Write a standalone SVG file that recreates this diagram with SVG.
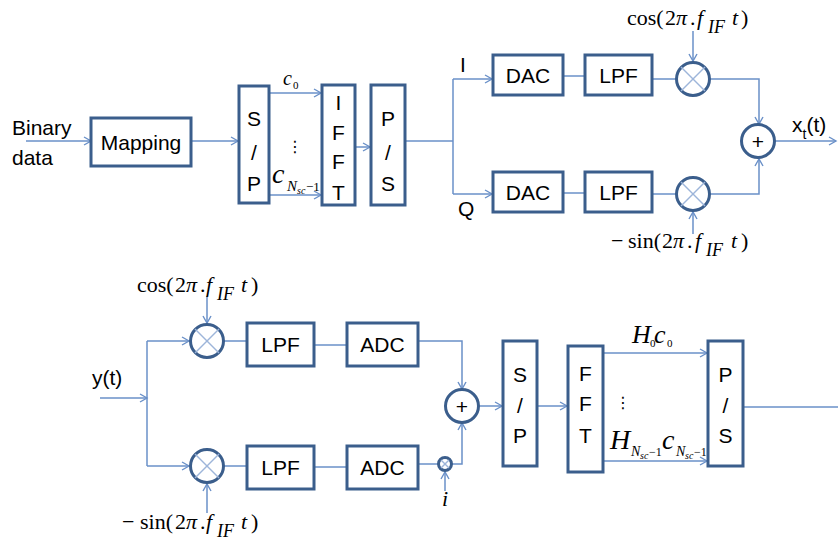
<svg xmlns="http://www.w3.org/2000/svg" width="838" height="542" viewBox="0 0 838 542">
<defs>
<style>
.box{fill:#fff;stroke:#3B5E8C;stroke-width:3}
.circ{fill:#fff;stroke:#3B5E8C;stroke-width:3}
.xl{stroke:#9DB5DA;stroke-width:1.5}
.ln{fill:none;stroke:#6A90C8;stroke-width:1.5}
.arr{fill:none;stroke:#6A90C8;stroke-width:1.5;marker-end:url(#ah)}
.t{font-family:"Liberation Sans",Arial,sans-serif;font-size:21px;fill:#000}
.m{font-family:"Liberation Serif","Times New Roman",serif;font-size:22px;fill:#000}
.i{font-style:italic}
.dots{font-family:"DejaVu Sans",sans-serif;font-size:16px;fill:#000}
</style>
<marker id="ah" markerWidth="10" markerHeight="10" refX="8" refY="5" orient="auto" markerUnits="userSpaceOnUse">
<path d="M1,1 L8,5 L1,9" fill="none" stroke="#6A90C8" stroke-width="1.4"/>
</marker>
</defs>

<g id="connectors">
<line class="arr" x1="26" y1="141" x2="91" y2="141"/>
<line class="arr" x1="191" y1="141" x2="238" y2="141"/>
<line class="arr" x1="269" y1="93" x2="321" y2="93"/>
<line class="arr" x1="269" y1="195" x2="321" y2="195"/>
<line class="arr" x1="355" y1="147" x2="370" y2="147"/>
<polyline class="ln" points="405,141 453,141"/>
<line class="ln" x1="453" y1="79" x2="453" y2="194"/>
<line class="arr" x1="453" y1="79" x2="492" y2="79"/>
<line class="arr" x1="453" y1="194" x2="492" y2="194"/>
<line class="ln" x1="563" y1="76" x2="585" y2="76"/>
<line class="ln" x1="563" y1="193" x2="585" y2="193"/>
<line class="ln" x1="652" y1="79" x2="676" y2="79"/>
<line class="ln" x1="652" y1="194" x2="676" y2="194"/>
<line class="arr" x1="693" y1="31" x2="693" y2="61"/>
<line class="arr" x1="693" y1="234" x2="693" y2="212"/>
<polyline class="arr" points="710,79 759,79 759,124"/>
<polyline class="arr" points="710,194 759,194 759,159"/>
<line class="arr" x1="775" y1="141" x2="836" y2="141"/>
<line class="arr" x1="100" y1="398" x2="147" y2="398"/>
<line class="ln" x1="147" y1="341" x2="147" y2="466"/>
<line class="arr" x1="147" y1="341" x2="189" y2="341"/>
<line class="arr" x1="147" y1="466" x2="189" y2="466"/>
<line class="arr" x1="207" y1="296" x2="207" y2="323"/>
<line class="arr" x1="207" y1="513" x2="207" y2="484"/>
<line class="ln" x1="224" y1="341" x2="247" y2="341"/>
<line class="ln" x1="224" y1="466" x2="247" y2="466"/>
<line class="ln" x1="314" y1="345" x2="347" y2="345"/>
<line class="ln" x1="314" y1="467" x2="347" y2="467"/>
<polyline class="arr" points="418,341 462,341 462,389"/>
<line class="ln" x1="418" y1="464" x2="438" y2="464"/>
<polyline class="arr" points="452,464 462,464 462,423"/>
<line class="arr" x1="445" y1="491" x2="445" y2="472"/>
<line class="arr" x1="478" y1="406" x2="502" y2="406"/>
<line class="arr" x1="537" y1="406" x2="567" y2="406"/>
<line class="arr" x1="603" y1="353" x2="707" y2="353"/>
<line class="arr" x1="603" y1="461" x2="707" y2="461"/>
<line class="ln" x1="743" y1="407" x2="838" y2="407"/>
</g>

<g id="binary-label"><text class="t" x="12" y="135">Binary</text><text class="t" x="12" y="165">data</text></g>
<g id="mapping"><rect class="box" x="91" y="118" width="100" height="48"/><text class="t" x="141" y="150" text-anchor="middle" font-size="23">Mapping</text></g>
<g id="sp1"><rect class="box" x="239" y="86" width="30" height="117"/>
<text class="t" x="254" y="126" text-anchor="middle">S</text><text class="t" x="254" y="160" text-anchor="middle">/</text><text class="t" x="254" y="191" text-anchor="middle">P</text></g>
<g id="c-labels">
<text class="m"><tspan class="i" x="283" y="85" font-size="20">c</tspan><tspan x="293" y="89" font-size="11">0</tspan></text>
<text class="dots" x="295" y="152" text-anchor="middle">⋮</text>
<text class="m"><tspan class="i" x="272" y="183" font-size="28">c</tspan><tspan class="i" x="287" y="191" font-size="15">N</tspan><tspan class="i" x="297" y="194" font-size="10">sc</tspan><tspan x="306" y="191" font-size="13">−1</tspan></text>
</g>
<g id="ifft"><rect class="box" x="322" y="85" width="33" height="120"/>
<text class="t" x="338.5" y="110" text-anchor="middle">I</text><text class="t" x="338.5" y="140" text-anchor="middle">F</text><text class="t" x="338.5" y="169" text-anchor="middle">F</text><text class="t" x="338.5" y="200" text-anchor="middle">T</text></g>
<g id="ps1"><rect class="box" x="371" y="85" width="34" height="120"/>
<text class="t" x="388" y="126" text-anchor="middle">P</text><text class="t" x="388" y="160" text-anchor="middle">/</text><text class="t" x="388" y="191" text-anchor="middle">S</text></g>
<g id="iq-labels"><text class="t" x="460" y="72">I</text><text class="t" x="458" y="216">Q</text></g>
<g id="dac-i"><rect class="box" x="493" y="55" width="70" height="40"/><text class="t" x="528" y="83" text-anchor="middle">DAC</text></g>
<g id="lpf-i"><rect class="box" x="585" y="55" width="67" height="40"/><text class="t" x="618.5" y="83" text-anchor="middle">LPF</text></g>
<g id="dac-q"><rect class="box" x="493" y="172" width="70" height="40"/><text class="t" x="528" y="200" text-anchor="middle">DAC</text></g>
<g id="lpf-q"><rect class="box" x="585" y="172" width="67" height="40"/><text class="t" x="618.5" y="200" text-anchor="middle">LPF</text></g>
<g id="mix-tx-i"><circle class="circ" cx="693" cy="79" r="16.5"/><line class="xl" x1="681" y1="67" x2="705" y2="91"/><line class="xl" x1="705" y1="67" x2="681" y2="91"/></g>
<g id="mix-tx-q"><circle class="circ" cx="693" cy="194" r="16.5"/><line class="xl" x1="681" y1="182" x2="705" y2="206"/><line class="xl" x1="705" y1="182" x2="681" y2="206"/></g>
<g id="cos-tx"><text class="m"><tspan x="627" y="25">cos(</tspan><tspan x="665" y="25">2</tspan><tspan class="i" x="676" y="25">π</tspan><tspan x="690" y="25">.</tspan><tspan class="i" x="697" y="25">f</tspan><tspan class="i" x="708" y="33" font-size="18">IF</tspan><tspan class="i" x="732" y="25">t</tspan><tspan x="741" y="25">)</tspan></text></g>
<g id="sin-tx"><text class="m"><tspan x="611" y="248">−</tspan><tspan x="628" y="248">sin(</tspan><tspan x="662" y="248">2</tspan><tspan class="i" x="673" y="248">π</tspan><tspan x="687" y="248">.</tspan><tspan class="i" x="695" y="248">f</tspan><tspan class="i" x="706" y="256" font-size="18">IF</tspan><tspan class="i" x="731" y="248">t</tspan><tspan x="741" y="248">)</tspan></text></g>
<g id="sum-tx"><circle class="circ" cx="758" cy="141" r="16.5"/><text class="t" x="758" y="149" text-anchor="middle" font-size="22">+</text></g>
<g id="xt-label"><text class="t" x="792" y="132" font-size="22">x<tspan font-size="14" dy="7">t</tspan><tspan dy="-7">(t)</tspan></text></g>

<g id="yt-label"><text class="t" x="92" y="385" font-size="22">y(t)</text></g>
<g id="cos-rx"><text class="m"><tspan x="137" y="292">cos(</tspan><tspan x="175" y="292">2</tspan><tspan class="i" x="186" y="292">π</tspan><tspan x="200" y="292">.</tspan><tspan class="i" x="206" y="292">f</tspan><tspan class="i" x="217" y="300" font-size="18">IF</tspan><tspan class="i" x="241" y="292">t</tspan><tspan x="251" y="292">)</tspan></text></g>
<g id="sin-rx"><text class="m"><tspan x="122" y="529">−</tspan><tspan x="140" y="529">sin(</tspan><tspan x="175" y="529">2</tspan><tspan class="i" x="186" y="529">π</tspan><tspan x="200" y="529">.</tspan><tspan class="i" x="206" y="529">f</tspan><tspan class="i" x="217" y="537" font-size="18">IF</tspan><tspan class="i" x="241" y="529">t</tspan><tspan x="251" y="529">)</tspan></text></g>
<g id="mix-rx-i"><circle class="circ" cx="207" cy="341" r="16.5"/><line class="xl" x1="195" y1="329" x2="219" y2="353"/><line class="xl" x1="219" y1="329" x2="195" y2="353"/></g>
<g id="mix-rx-q"><circle class="circ" cx="207" cy="466" r="16.5"/><line class="xl" x1="195" y1="454" x2="219" y2="478"/><line class="xl" x1="219" y1="454" x2="195" y2="478"/></g>
<g id="lpf-rx-i"><rect class="box" x="247" y="323" width="67" height="43"/><text class="t" x="280.5" y="352" text-anchor="middle">LPF</text></g>
<g id="adc-rx-i"><rect class="box" x="347" y="323" width="71" height="43"/><text class="t" x="382.5" y="352" text-anchor="middle">ADC</text></g>
<g id="lpf-rx-q"><rect class="box" x="247" y="446" width="67" height="43"/><text class="t" x="280.5" y="475" text-anchor="middle">LPF</text></g>
<g id="adc-rx-q"><rect class="box" x="347" y="446" width="71" height="43"/><text class="t" x="382.5" y="475" text-anchor="middle">ADC</text></g>
<g id="mix-i"><circle class="circ" cx="445" cy="464" r="6.5"/><line class="xl" x1="441" y1="460" x2="449" y2="468"/><line class="xl" x1="449" y1="460" x2="441" y2="468"/></g>
<g id="i-label"><text class="m i" x="442" y="506" font-size="20">i</text></g>
<g id="sum-rx"><circle class="circ" cx="462" cy="406" r="16.5"/><text class="t" x="462" y="414" text-anchor="middle" font-size="22">+</text></g>
<g id="sp2"><rect class="box" x="503" y="341" width="34" height="125"/>
<text class="t" x="520" y="382" text-anchor="middle">S</text><text class="t" x="520" y="413" text-anchor="middle">/</text><text class="t" x="520" y="443" text-anchor="middle">P</text></g>
<g id="fft"><rect class="box" x="568" y="346" width="35" height="126"/>
<text class="t" x="585.5" y="381" text-anchor="middle">F</text><text class="t" x="585.5" y="411" text-anchor="middle">F</text><text class="t" x="585.5" y="443" text-anchor="middle">T</text></g>
<g id="ps2"><rect class="box" x="708" y="341" width="35" height="125"/>
<text class="t" x="725.5" y="382" text-anchor="middle">P</text><text class="t" x="725.5" y="413" text-anchor="middle">/</text><text class="t" x="725.5" y="443" text-anchor="middle">S</text></g>
<g id="h-labels">
<text class="m"><tspan class="i" x="632" y="343" font-size="26">H</tspan><tspan x="650" y="347" font-size="11">0</tspan><tspan class="i" x="654" y="343" font-size="26">c</tspan><tspan x="667" y="347" font-size="11">0</tspan></text>
<text class="dots" x="623" y="408" text-anchor="middle">⋮</text>
<text class="m"><tspan class="i" x="610" y="449" font-size="28">H</tspan><tspan class="i" x="631" y="456" font-size="14">N</tspan><tspan class="i" x="640" y="459" font-size="10">sc</tspan><tspan x="649" y="456" font-size="12">−1</tspan><tspan class="i" x="662" y="449" font-size="28">c</tspan><tspan class="i" x="676" y="456" font-size="14">N</tspan><tspan class="i" x="685" y="459" font-size="10">sc</tspan><tspan x="694" y="456" font-size="12">−1</tspan></text>
</g>
</svg>
